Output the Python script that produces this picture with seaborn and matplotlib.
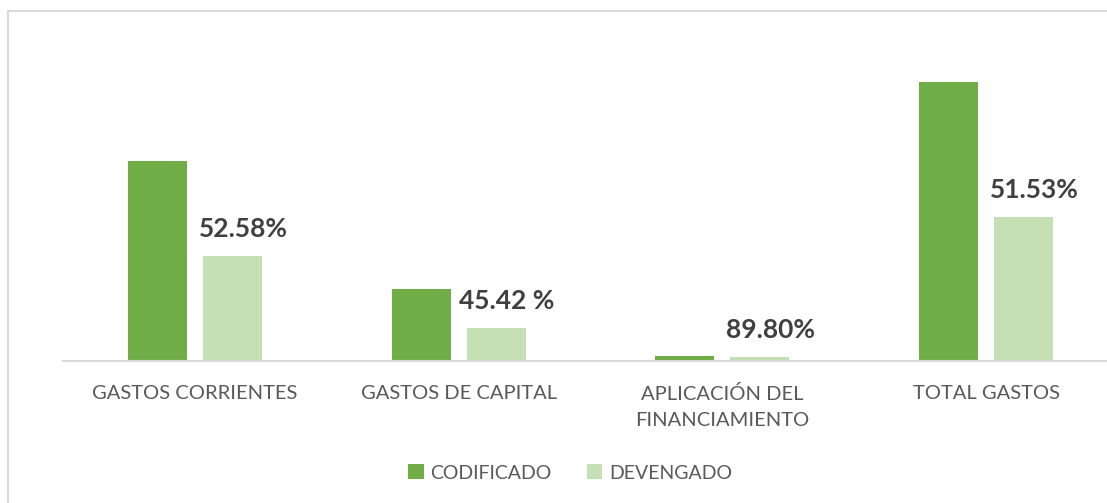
import matplotlib
matplotlib.use("Agg")
import matplotlib.pyplot as plt
import seaborn as sns
import pandas as pd
from matplotlib.patches import Rectangle

categories = ["GASTOS CORRIENTES", "GASTOS DE CAPITAL", "APLICACIÓN DEL\nFINANCIAMIENTO", "TOTAL GASTOS"]
series_names = ["CODIFICADO", "DEVENGADO"]
codificado = [200.0, 72.0, 5.0, 279.0]
devengado = [105.2, 32.7, 4.5, 143.8]
pct_labels = ["52.58%", "45.42 %", "89.80%", "51.53%"]

df = pd.DataFrame({
    "categoria": categories * 2,
    "serie": [series_names[0]] * 4 + [series_names[1]] * 4,
    "valor": codificado + devengado,
})

sns.set_theme(style="white")
plt.rcParams["font.family"] = ["Lato", "DejaVu Sans"]

W, H = 1107, 503
fig = plt.figure(figsize=(W / 100, H / 100), dpi=100)
ax = fig.add_axes([63 / W, (H - 361) / H, 1055 / W, 320 / H])

sns.barplot(data=df, x="categoria", y="valor", hue="serie", order=categories,
            hue_order=series_names, palette=["#70AD47", "#C5E0B4"],
            width=0.569, gap=0.213, ax=ax, saturation=1, legend=True,
            linewidth=0, edgecolor="none")

ax.set_xlim(-0.5, 3.5)
ax.set_ylim(0, 320)
ax.set_xlabel("")
ax.set_ylabel("")
ax.set_yticks([])
for s in ["top", "right", "left"]:
    ax.spines[s].set_visible(False)
ax.spines["bottom"].set_color("#D9D9D9")
ax.spines["bottom"].set_linewidth(1.5)
ax.tick_params(axis="x", length=0, pad=17, labelsize=14.5, labelcolor="#595959")
for t in ax.get_xticklabels():
    t.set_linespacing(1.7)
    t.set_verticalalignment("top")

# labels on devengado bars
for bar, lab in zip(ax.containers[1], pct_labels):
    x = bar.get_x() + bar.get_width() / 2
    y = bar.get_height()
    ax.annotate(lab, (x, y), xytext=(11, 27), textcoords="offset pixels",
                ha="center", va="center", fontsize=19, fontweight="bold",
                color="#404040")

handles, labels = ax.get_legend_handles_labels()
ax.legend_.remove()
fig.legend(handles, labels, loc="center", bbox_to_anchor=(570 / W, (H - 473) / H),
           ncol=2, frameon=False, fontsize=14, labelcolor="#595959",
           handlelength=0.8, handleheight=0.8, handletextpad=0.35,
           columnspacing=1.8, borderaxespad=0)

# outer chart frame (cropped on right and bottom)
fig.patches.append(Rectangle((8 / W, -0.1), 1.2, 1 - 11 / H + 0.1,
                             transform=fig.transFigure, fill=False,
                             edgecolor="#D9D9D9", linewidth=1.5, zorder=0))

fig.savefig("out.png", dpi=100, facecolor="white")
